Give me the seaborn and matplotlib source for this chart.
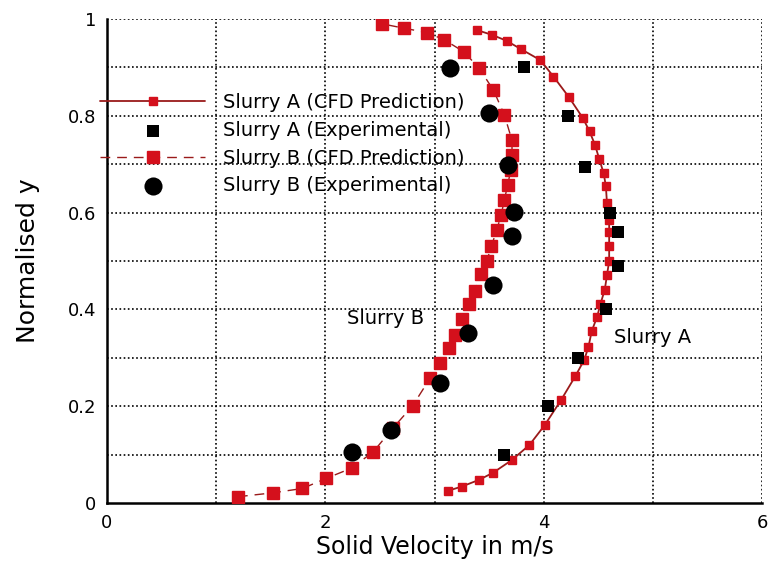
import matplotlib
matplotlib.use("Agg")
import matplotlib.pyplot as plt
import seaborn as sns
import numpy as np
import pandas as pd

# Slurry A CFD prediction
a_cfd_x = [3.12, 3.25, 3.41, 3.54, 3.71, 3.87, 4.01, 4.16, 4.29, 4.37, 4.41, 4.44, 4.49,
           4.52, 4.56, 4.58, 4.60, 4.60, 4.60, 4.60, 4.58, 4.57, 4.55, 4.51, 4.47, 4.42,
           4.36, 4.23, 4.09, 3.97, 3.79, 3.66, 3.53, 3.39]
a_cfd_y = [0.025, 0.034, 0.048, 0.063, 0.089, 0.12, 0.161, 0.213, 0.262, 0.295, 0.322, 0.355, 0.385,
           0.411, 0.441, 0.471, 0.50, 0.53, 0.56, 0.585, 0.619, 0.654, 0.681, 0.710, 0.740, 0.768,
           0.795, 0.839, 0.881, 0.915, 0.938, 0.955, 0.967, 0.977]
# Slurry A experimental
a_exp_x = [3.64, 4.04, 4.31, 4.57, 4.68, 4.68, 4.61, 4.38, 4.22, 3.82]
a_exp_y = [0.10, 0.20, 0.30, 0.40, 0.49, 0.56, 0.60, 0.695, 0.80, 0.90]
# Slurry B CFD prediction
b_cfd_x = [1.20, 1.52, 1.79, 2.01, 2.24, 2.44, 2.62, 2.80, 2.96, 3.05, 3.13, 3.19, 3.25,
           3.32, 3.37, 3.43, 3.48, 3.52, 3.57, 3.61, 3.64, 3.67, 3.70, 3.71, 3.71, 3.64,
           3.54, 3.41, 3.27, 3.09, 2.93, 2.72, 2.52]
b_cfd_y = [0.013, 0.021, 0.030, 0.051, 0.072, 0.106, 0.155, 0.201, 0.258, 0.289, 0.320, 0.347, 0.380,
           0.411, 0.439, 0.473, 0.501, 0.530, 0.564, 0.595, 0.626, 0.657, 0.689, 0.719, 0.749, 0.802,
           0.853, 0.898, 0.932, 0.957, 0.972, 0.981, 0.990]
# Slurry B experimental
b_exp_x = [2.24, 2.60, 3.05, 3.31, 3.54, 3.71, 3.73, 3.67, 3.50, 3.14]
b_exp_y = [0.106, 0.151, 0.247, 0.352, 0.450, 0.552, 0.602, 0.698, 0.805, 0.898]

x_ticks = [0, 1, 2, 3, 4, 5, 6]
x_labels = ["0", "", "2", "", "4", "", "6"]
y_ticks = [0, 0.1, 0.2, 0.3, 0.4, 0.5, 0.6, 0.7, 0.8, 0.9, 1.0]
y_labels = ["0", "", "0.2", "", "0.4", "", "0.6", "", "0.8", "", "1"]

labels = ["Slurry A (CFD Prediction)", "Slurry A (Experimental)",
          "Slurry B (CFD Prediction)", "Slurry B (Experimental)"]

sns.set_style("white")
plt.rcParams['font.family'] = ['DejaVu Sans']
plt.rcParams['text.color'] = 'black'
plt.rcParams['axes.labelcolor'] = 'black'
plt.rcParams['xtick.color'] = 'black'
plt.rcParams['ytick.color'] = 'black'

fig = plt.figure(figsize=(7.69, 5.62), dpi=100)
ax = fig.add_axes([107/769, 1-503/562, (762-107)/769, (503-19)/562])

red = "#d4101c"
dark = "#9a1a1a"

dfa = pd.DataFrame({"x": a_cfd_x, "y": a_cfd_y})
dfb = pd.DataFrame({"x": b_cfd_x, "y": b_cfd_y})

ax.plot(dfa.x, dfa.y, color=dark, lw=1.3, marker="s", ms=5.5,
        mfc=red, mec=red, zorder=3, label=labels[0])
sns.scatterplot(x=a_exp_x, y=a_exp_y, ax=ax, marker="s", s=80, color="black",
                edgecolor="black", linewidth=0, zorder=4, label=labels[1])
ax.plot(dfb.x, dfb.y, color=dark, lw=1.0, ls=(0, (7, 5)), marker="s", ms=8.0,
        mfc=red, mec=red, zorder=3, label=labels[2])
sns.scatterplot(x=b_exp_x, y=b_exp_y, ax=ax, marker="o", s=170, color="black",
                edgecolor="black", linewidth=0, zorder=5, label=labels[3])

ax.set_xlim(0, 6)
ax.set_ylim(0, 1)
ax.set_xticks(x_ticks)
ax.set_xticklabels(x_labels)
ax.set_yticks(y_ticks)
ax.set_yticklabels(y_labels)
ax.tick_params(axis="y", direction="in", length=11, width=1.5, labelsize=13, pad=8)
ax.tick_params(axis="x", direction="in", length=6, width=1.5, labelsize=13, pad=8)

for v in x_ticks[1:]:
    ax.axvline(v, color="black", ls=(0, (1, 1.5)), lw=1.2, zorder=1)
for v in y_ticks[1:]:
    ax.axhline(v, color="black", ls=(0, (1, 1.5)), lw=1.2, zorder=1)

for s in ["top", "right"]:
    ax.spines[s].set_visible(False)
for s in ["left", "bottom"]:
    ax.spines[s].set_linewidth(1.8)
    ax.spines[s].set_color("black")

ax.set_xlabel("Solid Velocity in m/s", fontsize=17, labelpad=2)
ax.set_ylabel("Normalised y", fontsize=18, labelpad=20)

ax.text(2.2, 0.382, "Slurry B", fontsize=14, va="center", ha="left")
ax.text(4.64, 0.341, "Slurry A", fontsize=14, va="center", ha="left")

h, l = ax.get_legend_handles_labels()
hd = {lab: hh for hh, lab in zip(h, l)}
leg = ax.legend([hd[k] for k in labels], labels, loc="upper left",
                bbox_to_anchor=(100/769, 1-93/562), bbox_transform=fig.transFigure,
                frameon=False, fontsize=14, handlelength=5.4, handletextpad=0.9,
                labelspacing=0.45, borderpad=0, borderaxespad=0)
leg.set_zorder(6)

fig.savefig("out.png", dpi=100)
